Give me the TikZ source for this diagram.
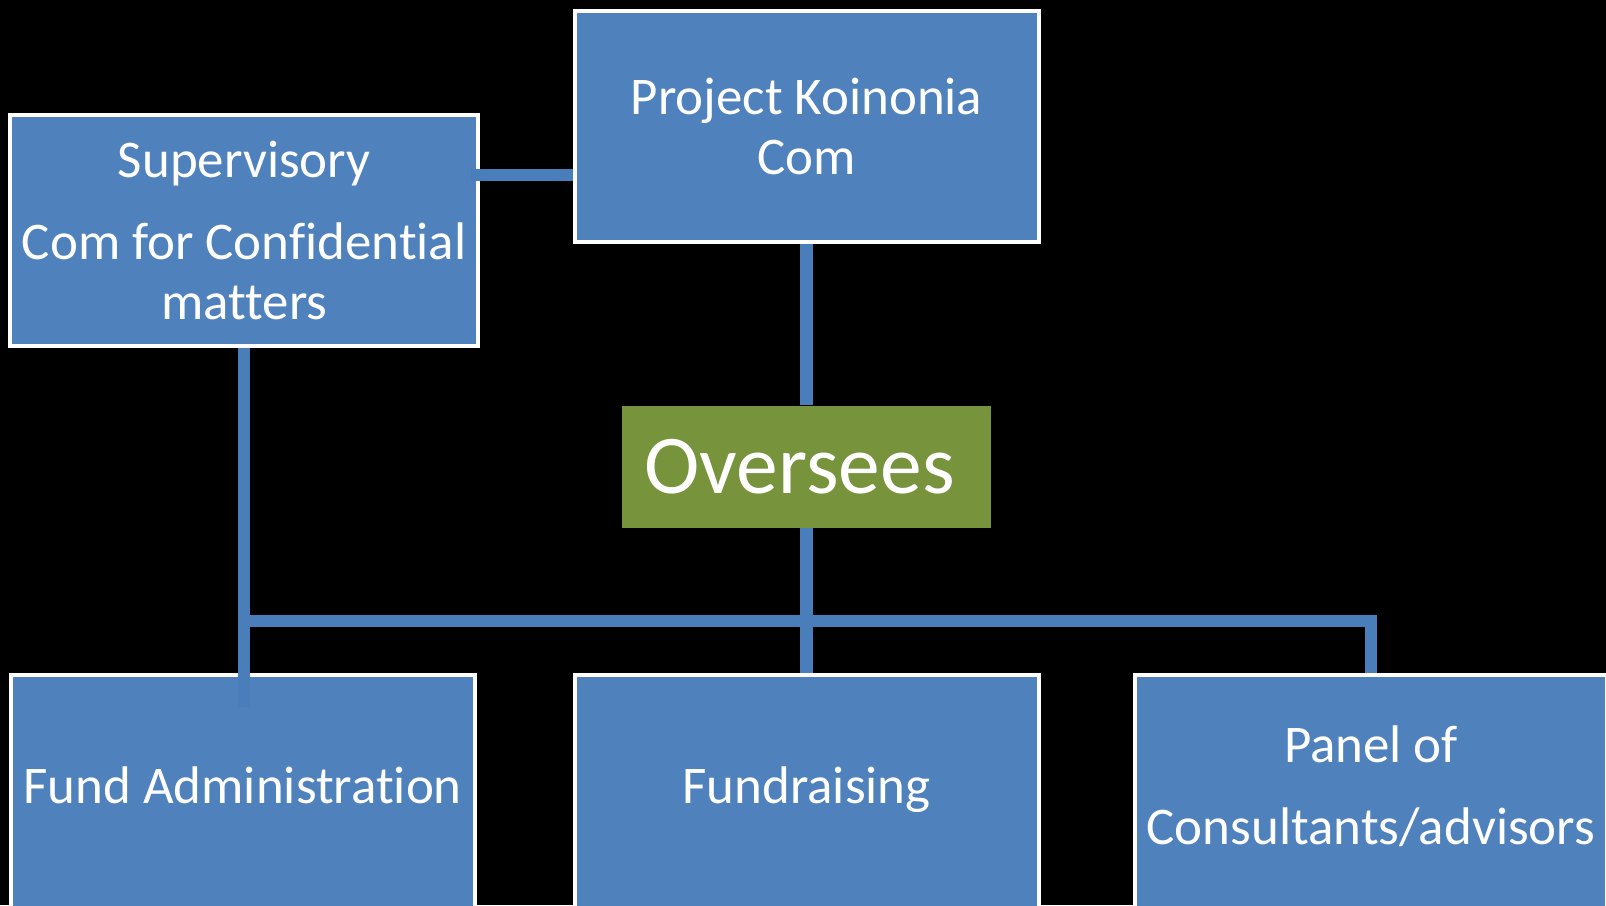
\documentclass[tikz,border=0pt]{standalone}
\usepackage{fontspec}
\setmainfont{Carlito}[Ligatures=NoCommon]
\usetikzlibrary{calc}
\definecolor{boxblue}{HTML}{4F81BD}
\definecolor{linkblue}{HTML}{4A7EBB}
\definecolor{oversgreen}{HTML}{77933C}

\begin{document}
\begin{tikzpicture}[x=0.10242mm,y=-0.10242mm]
	\tikzstyle{unit}=[rectangle,draw=white,line width=0.41mm,fill=boxblue,text=white,align=center,minimum width=46.4mm,font=\fontsize{15.06}{16.9}\selectfont]
	\tikzstyle{top unit}=[unit,minimum height=23.15mm]
	\tikzstyle{low unit}=[unit,minimum height=30.7mm,text depth=24.6pt,anchor=north]
	\tikzstyle{label box}=[rectangle,fill=oversgreen,text=white,minimum width=36.97mm,minimum height=12.19mm,font=\fontsize{23.76}{26.6}\selectfont]
	\tikzstyle{link}=[draw,line width=1.23mm,linkblue]

	\useasboundingbox (0,0) rectangle (1568,883.6);
	\fill[black] (0,0) rectangle (1568,883.6);
	\clip (0,0) rectangle (1568,883.6);

	\node[top unit] (sup) at (238.5,225) {Supervisory\\[6.45pt]Com for Confidential\\matters};
	\node[top unit] (proj) at (787.5,123.5) {Project Koinonia\\Com};
	\node[label box] (over) at (787.5,455.5) {\hspace{-4pt}Oversees};
	\node[low unit] (fund) at (237,657) {Fund Administration};
	\node[low unit] (raise) at (787.5,657) {Fundraising};
	\node[low unit] (panel) at (1338.5,657) {Panel of\\[6.45pt]Consultants/advisors};

	\coordinate (tie) at ($(sup.east)+(-9,-54)$);
	\coordinate (bus) at (240,606);
	\coordinate (drop) at ($(sup.south |- fund.north)+(0,33)$);

	\draw[link] (tie) -- (tie -| proj.west);
	\draw[link] (proj) -- (over);
	\draw[link] (over) -- (raise);
	\draw[link] (sup.south) -- (drop);
	\draw[link] (sup.south |- bus) -| (panel.north);
\end{tikzpicture}
\end{document}
